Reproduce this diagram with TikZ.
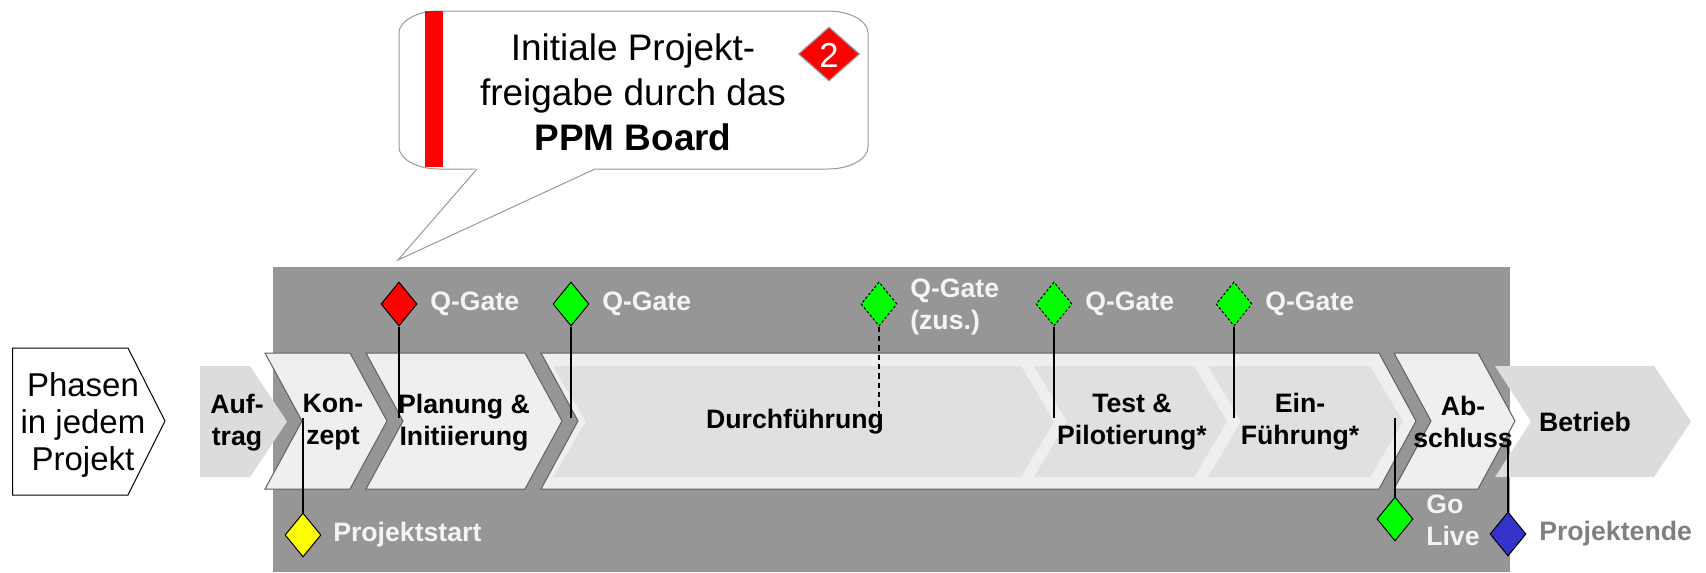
\documentclass[tikz,border=0pt]{standalone}
\usepackage{fontspec}
\setmainfont{Liberation Sans}
\usetikzlibrary{shapes.geometric}
\definecolor{bgray}{HTML}{969696}
\definecolor{chevout}{HTML}{EFEFEF}
\definecolor{chevin}{HTML}{E0E0E0}
\definecolor{chevlight}{HTML}{DCDCDC}
\definecolor{chevline}{HTML}{606060}
\definecolor{lblwhite}{HTML}{F4F4F4}
\definecolor{lblgray}{HTML}{7F7F7F}
\definecolor{gategreen}{HTML}{00FF00}
\definecolor{gatered}{HTML}{FF0000}
\definecolor{gateyellow}{HTML}{FFFF00}
\definecolor{gateblue}{HTML}{3333CC}
\definecolor{bubbleline}{HTML}{999999}
\newcommand\lblfont{\fontsize{20}{24}\selectfont\bfseries}
\begin{document}
\begin{tikzpicture}[x=0.75pt,y=-0.75pt,
  outerchev/.style={fill=chevout,draw=chevline,line width=0.75pt},
  innerchev/.style={fill=chevin},
  lightchev/.style={fill=chevlight},
  phaselbl/.style={font=\lblfont,align=center,inner sep=0pt},
  gatelbl/.style={font=\lblfont,text=lblwhite,anchor=west,inner sep=0pt,align=left},
  gate/.style={diamond,draw=black,line width=0.75pt,minimum width=27pt,minimum height=33pt,inner sep=0pt},
  dashgate/.style={gate,dash pattern=on 2pt off 1.5pt},
  gateline/.style={line width=1.2pt},
]
\useasboundingbox (0,0) rectangle (1706,572);

% Phasen box
\draw[line width=0.75pt,fill=white] (12.5,348) -- (128,348) -- (165,421) -- (128,495) -- (12.5,495) -- cycle;
\node[font=\fontsize{24.75}{27.75}\selectfont,align=center,inner sep=0pt] (phasen) at (83,425) {Phasen\\in jedem\\Projekt};

% gray background
\fill[bgray] (273,267) rectangle (1510,572);

% light chevrons
\fill[lightchev] (200,366) -- (250,366) -- (287,421.5) -- (250,477) -- (200,477) -- cycle;
\fill[lightchev] (1495,366) -- (1654,366) -- (1691,421.5) -- (1654,477) -- (1495,477) -- (1531,421.5) -- cycle;

% outer chevrons
\draw[outerchev] (265,353) -- (350,353) -- (387,421) -- (350,489) -- (265,489) -- (302,421) -- cycle;
\draw[outerchev] (366,353) -- (525,353) -- (562,421) -- (525,489) -- (366,489) -- (403,421) -- cycle;
\draw[outerchev] (541,353) -- (1379,353) -- (1416,421) -- (1379,489) -- (541,489) -- (578,421) -- cycle;
\draw[outerchev] (1394,353) -- (1478,353) -- (1515,421) -- (1478,489) -- (1394,489) -- (1431,421) -- cycle;

% inner chevrons
\fill[innerchev] (553,366) -- (1021,366) -- (1054,421.5) -- (1021,477) -- (553,477) -- (586,421.5) -- cycle;
\fill[innerchev] (1034,366) -- (1194,366) -- (1227,421.5) -- (1194,477) -- (1034,477) -- (1067,421.5) -- cycle;
\fill[innerchev] (1208,366) -- (1370,366) -- (1403,421.5) -- (1370,477) -- (1208,477) -- (1241,421.5) -- cycle;

% phase labels
\node[phaselbl] (auftrag) at (237,422.5) {Auf-\\trag};
\node[phaselbl] (konzept) at (333,422.5) {Kon-\\zept};
\node[phaselbl] (planung) at (464,422.5) {Planung \&\\Initiierung};
\node[phaselbl] (durch) at (795,422) {Durchführung};
\node[phaselbl] (test) at (1132,422) {Test \&\\Pilotierung*};
\node[phaselbl] (einf) at (1300,422) {Ein-\\Führung*};
\node[phaselbl] (absch) at (1463,422) {Ab-\\schluss};
\node[phaselbl] (betrieb) at (1585,422) {Betrieb};

% gate end points
\coordinate (e1) at (399,418);
\coordinate (e2) at (571,418);
\coordinate (e3) at (879,432);
\coordinate (e4) at (1054,418);
\coordinate (e5) at (1234,418);
\coordinate (eps) at (303,418);
\coordinate (egl) at (1395,418);
\coordinate (epe) at (1508,440);

% top gates
\node[gate,fill=gatered] (g1) at (399,304) {};
\node[gate,fill=gategreen] (g2) at (571,304) {};
\node[dashgate,fill=gategreen] (g3) at (879,304) {};
\node[dashgate,fill=gategreen] (g4) at (1054,304) {};
\node[dashgate,fill=gategreen] (g5) at (1234,304) {};
\draw[gateline] (g1.south) -- (e1);
\draw[gateline] (g2.south) -- (e2);
\draw[gateline,dash pattern=on 4pt off 3pt] (g3.south) -- (e3);
\draw[gateline] (g4.south) -- (e4);
\draw[gateline] (g5.south) -- (e5);
\node[gatelbl] (l1) at (430,304) {Q-Gate};
\node[gatelbl] (l2) at (602,304) {Q-Gate};
\node[gatelbl] (l3) at (910,307) {Q-Gate\\(zus.)};
\node[gatelbl] (l4) at (1085,304) {Q-Gate};
\node[gatelbl] (l5) at (1265,304) {Q-Gate};

% bottom gates
\node[gate,fill=gateyellow] (ps) at (303,535) {};
\node[gate,fill=gategreen] (gl) at (1395,519) {};
\node[gate,fill=gateblue] (pe) at (1508,534) {};
\draw[gateline] (eps) -- (ps.north);
\draw[gateline] (egl) -- (gl.north);
\draw[gateline] (epe) -- (pe.north);
\node[gatelbl] (lps) at (333,535) {Projektstart};
\node[gatelbl] (lgl) at (1426,520.5) {Go\\Live};
\node[gatelbl,text=lblgray] (lpe) at (1539,534) {Projektende};

% speech bubble
\draw[bubbleline,fill=white,line width=0.75pt] (439,11) -- (828,11) .. controls (850,11) and (868,21) .. (868,33) -- (868,147) .. controls (868,159) and (850,169) .. (828,169) -- (439,169) .. controls (417,169) and (399,159) .. (399,147) -- (399,33) .. controls (399,21) and (417,11) .. (439,11) -- cycle;
\fill[white] (476,168) -- (596,168) -- (398,260) -- cycle;
\coordinate (tip) at (398,260);
\draw[bubbleline,line width=0.75pt] (477,169) -- (tip) -- (595,169);
\fill[gatered] (425,11) rectangle (443,167);
\node[font=\fontsize{27.7}{33.75}\selectfont,align=center,inner sep=0pt] (btext) at (633,92) {Initiale Projekt-\\freigabe durch das\\\textbf{PPM Board}};
\node[diamond,fill=gatered,draw=bubbleline,line width=0.9pt,minimum width=45.75pt,minimum height=40.5pt,inner sep=0pt] (two) at (829,54) {};
\node[text=white,font=\fontsize{26}{26}\selectfont,inner sep=0pt] (twolbl) at (829,55) {2};
\end{tikzpicture}
\end{document}
